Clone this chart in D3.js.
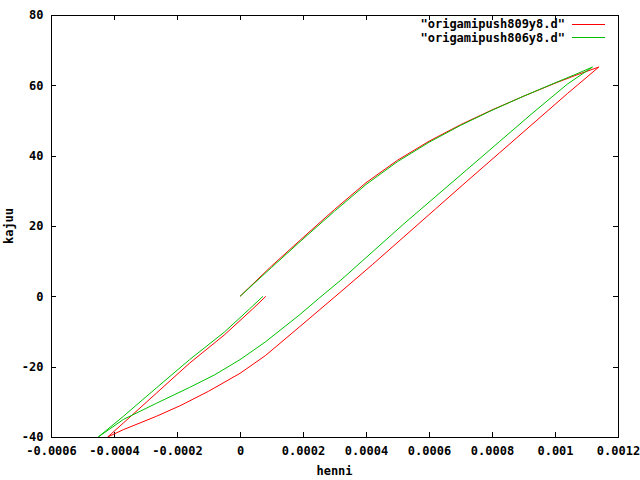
<!DOCTYPE html>
<html>
<head>
<meta charset="utf-8">
<script src="https://cdn.jsdelivr.net/npm/d3@7"></script>
<style>
  html, body { margin: 0; padding: 0; background: #fff; }
  svg text { font-family: "DejaVu Sans Mono", "Liberation Mono", monospace; font-weight: bold; font-size: 12px; fill: #000; }
</style>
</head>
<body>
<svg id="chart" width="640" height="480"></svg>
<script>
// ---- data (henni, kajuu) ----
const series1Name = '"origamipush809y8.d"';
const series2Name = '"origamipush806y8.d"';

// origamipush809y8.d : loading -> unloading -> reloading
const henni809 = [
  0, 0.0001, 0.0002, 0.0003, 0.0004, 0.0005, 0.0006, 0.0007, 0.0008, 0.0009, 0.001, 0.00107, 0.001139,
  0.00104, 0.00093, 0.000825, 0.00072, 0.00062, 0.00052, 0.00042, 0.00032, 0.00019, 0.00008, 0.0, -0.0001, -0.00019, -0.000265, -0.00037, -0.00042,
  -0.00037, -0.000265, -0.00016, -0.00005, 0.00004, 0.000082
];
const kajuu809 = [
  0, 8.6, 16.7, 24.7, 32.3, 38.7, 44.1, 48.8, 53.0, 56.9, 60.6, 63.0, 65.2,
  57.7, 49.1, 40.9, 32.7, 24.8, 16.9, 9.0, 1.3, -8.6, -16.9, -21.9, -27.0, -31.1, -34.1, -37.9, -40,
  -36.0, -27.5, -19.0, -11.0, -3.6, 0
];

// origamipush806y8.d : loading -> unloading -> reloading
const henni806 = [
  0, 0.0001, 0.0002, 0.0003, 0.0004, 0.0005, 0.0006, 0.0007, 0.0008, 0.0009, 0.001, 0.00107, 0.001119,
  0.00104, 0.00093, 0.000825, 0.00072, 0.00062, 0.00052, 0.00042, 0.00032, 0.00025, 0.00019, 0.00008, 0.0, -0.00008, -0.00016, -0.000265, -0.00037, -0.00045,
  -0.00037, -0.000265, -0.00016, -0.00005, 0.00003, 0.000073
];
const kajuu806 = [
  0, 8.2, 16.3, 24.2, 31.8, 38.3, 43.8, 48.6, 52.9, 56.9, 60.7, 63.3, 65.2,
  60.4, 52.2, 44.1, 36.0, 28.3, 20.6, 12.6, 4.6, -0.6, -5.2, -13.0, -18.0, -22.3, -25.9, -30.4, -35.0, -40,
  -34.1, -26.0, -18.0, -10.2, -3.6, 0
];

const xTicks = [-0.0006, -0.0004, -0.0002, 0, 0.0002, 0.0004, 0.0006, 0.0008, 0.001, 0.0012];
const xTickLabels = ["-0.0006", "-0.0004", "-0.0002", "0", "0.0002", "0.0004", "0.0006", "0.0008", "0.001", "0.0012"];
const yTicks = [-40, -20, 0, 20, 40, 60, 80];
const yTickLabels = ["-40", "-20", "0", "20", "40", "60", "80"];
const xLabel = "henni";
const yLabel = "kajuu";

// ---- layout ----
const mLeft = 51, mRight = 618, mTop = 15, mBottom = 437;
const svg = d3.select("#chart");
const x = d3.scaleLinear().domain([-0.0006, 0.0012]).range([mLeft, mRight]);
const y = d3.scaleLinear().domain([-40, 80]).range([mBottom, mTop]);

svg.append("defs").append("clipPath").attr("id", "clip")
  .append("rect").attr("x", mLeft).attr("y", mTop).attr("width", mRight - mLeft).attr("height", mBottom - mTop);

const tickLen = 5;
const xAxisB = d3.axisBottom(x).tickValues(xTicks).tickSizeInner(-tickLen).tickSizeOuter(0)
  .tickFormat((d, i) => xTickLabels[i]).tickPadding(9);
const xAxisT = d3.axisTop(x).tickValues(xTicks).tickSizeInner(-tickLen).tickSizeOuter(0).tickFormat("");
const yAxisL = d3.axisLeft(y).tickValues(yTicks).tickSizeInner(-tickLen).tickSizeOuter(0)
  .tickFormat((d, i) => yTickLabels[i]).tickPadding(7.5);
const yAxisR = d3.axisRight(y).tickValues(yTicks).tickSizeInner(-tickLen).tickSizeOuter(0).tickFormat("");

function styleAxis(g) {
  g.select(".domain").remove();
  g.selectAll("line").attr("stroke", "#000").attr("shape-rendering", "crispEdges");
  g.selectAll("text").attr("fill", "#000").style("font-size", "12px");
}
svg.append("g").attr("transform", `translate(0,${mBottom})`).call(xAxisB).call(styleAxis);
svg.append("g").attr("transform", `translate(0,${mTop})`).call(xAxisT).call(styleAxis);
svg.append("g").attr("transform", `translate(${mLeft},0)`).call(yAxisL).call(styleAxis);
svg.append("g").attr("transform", `translate(${mRight},0)`).call(yAxisR).call(styleAxis);

// border
svg.append("rect").attr("x", mLeft + 0.5).attr("y", mTop + 0.5)
  .attr("width", mRight - mLeft).attr("height", mBottom - mTop)
  .attr("fill", "none").attr("stroke", "#000").attr("stroke-width", 1).attr("shape-rendering", "crispEdges");

// axis labels
svg.append("text").attr("x", (mLeft + mRight) / 2).attr("y", 475).attr("text-anchor", "middle").text(xLabel);
svg.append("text").attr("transform", `translate(13,${(mTop + mBottom) / 2}) rotate(-90)`)
  .attr("text-anchor", "middle").text(yLabel);

// lines
const line = d3.line().x(d => x(d[0])).y(d => y(d[1]));
const data809 = henni809.map((v, i) => [v, kajuu809[i]]);
const data806 = henni806.map((v, i) => [v, kajuu806[i]]);
const plot = svg.append("g").attr("clip-path", "url(#clip)");
plot.append("path").datum(data809).attr("d", line).attr("fill", "none").attr("stroke", "#ff0000").attr("stroke-width", 1);
plot.append("path").datum(data806).attr("d", line).attr("fill", "none").attr("stroke", "#00c000").attr("stroke-width", 1);

// legend
const legend = [
  { name: series1Name, color: "#ff0000", yy: 23.5 },
  { name: series2Name, color: "#00c000", yy: 37 }
];
legend.forEach(l => {
  svg.append("text").attr("x", 565).attr("y", l.yy).attr("dy", "0.38em").attr("text-anchor", "end").text(l.name);
  svg.append("line").attr("x1", 572).attr("x2", 605).attr("y1", Math.round(l.yy) + 0.5).attr("y2", Math.round(l.yy) + 0.5)
    .attr("stroke", l.color).attr("stroke-width", 1).attr("shape-rendering", "crispEdges");
});
</script>
</body>
</html>
